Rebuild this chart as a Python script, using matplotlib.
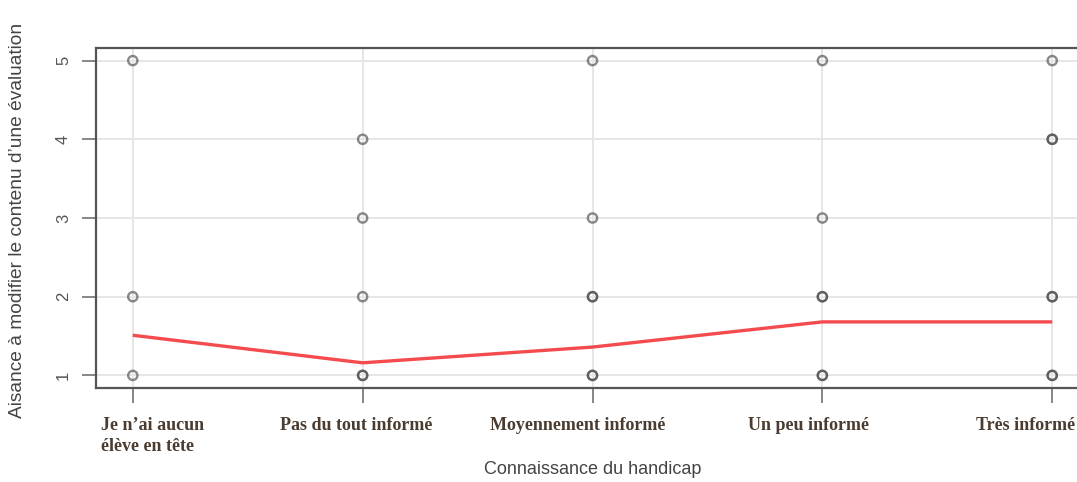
import matplotlib
matplotlib.use("Agg")
import matplotlib.pyplot as plt
import matplotlib.transforms as mtransforms

# Knowledge-of-disability categories (x axis)
categories = [
    "Je n\u2019ai aucun\nélève en tête",
    "Pas du tout informé",
    "Moyennement informé",
    "Un peu informé",
    "Très informé",
]

# Individual answers (comfort score 1-5) per category; repeated values overlap
answers = [
    [1, 2, 5],
    [1, 1, 2, 3, 4],
    [1, 1, 2, 2, 3, 5],
    [1, 1, 2, 2, 3, 5],
    [1, 1, 2, 2, 4, 4, 5],
]

# Smoothed trend per category
trend = [1.51, 1.16, 1.36, 1.68, 1.68]

y_ticks = [1, 2, 3, 4, 5]

W, H = 1077, 482
fig = plt.figure(figsize=(W / 100, H / 100), dpi=100)
fig.patch.set_facecolor("white")

# axes box extends slightly past the right edge of the figure
left_px, right_px, top_px, bottom_px = 96, 1089, 48, 388
ax = fig.add_axes([left_px / W, 1 - bottom_px / H,
                   (right_px - left_px) / W, (bottom_px - top_px) / H])

n = len(categories)
xs = list(range(n))
ax.set_xlim(-0.16, n - 1 + 0.16)
ax.set_ylim(0.84, 5.16)

# grid
for x in xs:
    ax.axvline(x, color="#e6e6e6", lw=1.4, zorder=0)
for y in y_ticks:
    ax.axhline(y, color="#e6e6e6", lw=1.4, zorder=0)

# points
for i, vals in enumerate(answers):
    ax.scatter([i] * len(vals), vals, s=44, facecolors="none",
               edgecolors="#4a4a4a", linewidths=1.7, alpha=0.65, zorder=3)

# trend line
ax.plot(xs, trend, color="#f44b4f", lw=2.4, zorder=4, solid_capstyle="butt")

for sp in ax.spines.values():
    sp.set_color("#555555")
    sp.set_linewidth(1.6)

ax.set_yticks(y_ticks)
ax.set_yticklabels([str(v) for v in y_ticks], rotation=90, va="center",
                   fontsize=12, color="#555555", family="Liberation Sans")
ax.tick_params(axis="y", length=10, width=1.1, color="#666666", pad=8)

ax.set_xticks(xs)
ax.set_xticklabels(categories, fontsize=13, color="#4a3c30",
                   family="Liberation Serif", fontweight="bold", linespacing=1.3)
ax.tick_params(axis="x", length=11, width=1.1, color="#666666", pad=10)

# per-label horizontal shifts (pixels)
shifts = [20, -6, -15, -14, -27]
for lab, dx in zip(ax.get_xticklabels(), shifts):
    lab.set_transform(lab.get_transform() +
                      mtransforms.ScaledTranslation(dx / 100, 0, fig.dpi_scale_trans))
first = ax.get_xticklabels()[0]
first.set_ha("center")
first.set_multialignment("left")

fig.text(593 / W, 1 - 470 / H, "Connaissance du handicap", ha="center",
         va="center", fontsize=13, color="#444444", family="Liberation Sans")
fig.text(18 / W, 1 - 220 / H, "Aisance à modifier le contenu d\u2019une évaluation",
         rotation=90, ha="center", va="center", fontsize=13.8, color="#444444",
         family="Liberation Sans")

fig.savefig("out.png", dpi=100, facecolor="white")
